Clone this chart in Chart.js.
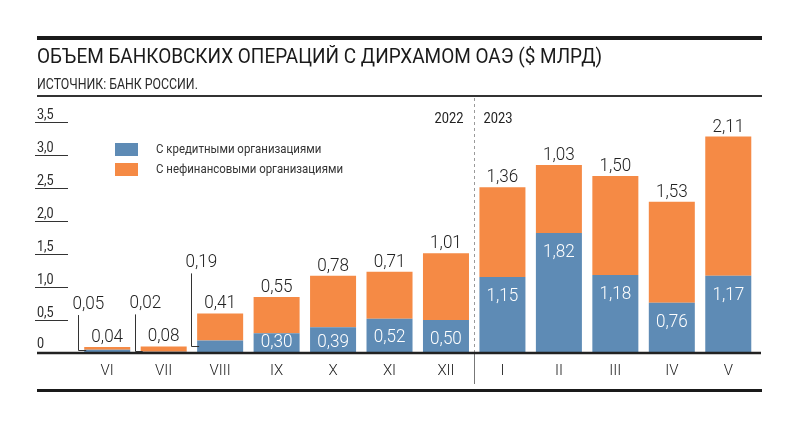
<!DOCTYPE html>
<html>
<head>
<meta charset="utf-8">
<script src="https://cdn.jsdelivr.net/npm/chart.js@4.4.1/dist/chart.umd.min.js"></script>
<style>
  body { margin: 0; background: #fff; }
  #wrap { position: relative; width: 800px; height: 430px; overflow: hidden; }
  #myChart { position: absolute; left: 0; top: 0; }
  .rule { position: absolute; left: 37px; width: 725px; background: #1a1a1a; }
  .txt { position: absolute; left: 37px; white-space: nowrap; font-family: Roboto, sans-serif; color: #1a1a1a; transform-origin: 0 0; }
  #title { top: 46px; font-size: 20px; line-height: 20px; }
  #source { top: 76.5px; font-size: 14px; line-height: 14px; color: #2a2a2a; }
</style>
</head>
<body>
<div id="wrap">
  <canvas id="myChart" width="800" height="430"></canvas>
  <div class="rule" style="top:36px;height:4px"></div>
  <div class="txt" id="title">ОБЪЕМ БАНКОВСКИХ ОПЕРАЦИЙ С ДИРХАМОМ ОАЭ ($ МЛРД)</div>
  <div class="txt" id="source">ИСТОЧНИК: БАНК РОССИИ.</div>
  <div class="rule" style="top:95px;height:2px;background:#333"></div>
  <div class="rule" style="top:389px;height:3px"></div>
</div>
<script>
const months = ['VI', 'VII', 'VIII', 'IX', 'X', 'XI', 'XII', 'I', 'II', 'III', 'IV', 'V'];
const creditOrgs = [0.05, 0.02, 0.19, 0.30, 0.39, 0.52, 0.50, 1.15, 1.82, 1.18, 0.76, 1.17];
const nonFinOrgs = [0.04, 0.08, 0.41, 0.55, 0.78, 0.71, 1.01, 1.36, 1.03, 1.50, 1.53, 2.11];
const yTicks = [0, 0.5, 1, 1.5, 2, 2.5, 3, 3.5];
const years = ['2022', '2023'];
const firstOf2023 = 7;   // index of 'I'
const pulledOut = 3;     // first months: blue value sits on a leader line

const BLUE = '#5e8bb5';
const ORANGE = '#f58a45';
const INK = '#222';

// squeeze title/source to the widths in the picture
function fit(id, w) {
  const el = document.getElementById(id);
  el.style.transform = 'scaleX(' + (w / el.scrollWidth) + ')';
}
fit('title', 565);
fit('source', 161);

const fmt = v => v.toFixed(2).replace('.', ',');
const fmtTick = v => v === 0 ? '0' : v.toFixed(1).replace('.', ',');

// condensed text: squeeze horizontally around the anchor
function narrowText(c, str, x, y, sx) {
  c.save();
  c.translate(x, y);
  c.scale(sx, 1);
  c.fillText(str, 0, 0);
  c.restore();
}

const annot = {
  id: 'annot',
  afterDatasetsDraw(chart) {
    const c = chart.ctx;
    const x = chart.scales.x, y = chart.scales.y;
    const y0 = y.getPixelForValue(0);
    c.save();

    // y ticks: number sitting on a short rule
    c.fillStyle = '#2a2a2a';
    c.strokeStyle = '#333';
    c.lineWidth = 1;
    c.font = '14px Roboto';
    c.textAlign = 'left';
    c.textBaseline = 'alphabetic';
    yTicks.forEach(t => {
      const py = y.getPixelForValue(t);
      if (t > 0) {
        c.beginPath();
        c.moveTo(35, Math.round(py) + 0.5);
        c.lineTo(68, Math.round(py) + 0.5);
        c.stroke();
        narrowText(c, fmtTick(t), 37, py - 3, 0.9);
      } else {
        narrowText(c, fmtTick(t), 37, py - 5, 0.9);
      }
    });

    // year separator
    const sx = Math.round((x.getPixelForValue(firstOf2023 - 1) + x.getPixelForValue(firstOf2023)) / 2) + 0.5;
    c.strokeStyle = '#9a9a9a';
    c.setLineDash([3, 3]);
    c.beginPath();
    c.moveTo(sx, 98);
    c.lineTo(sx, y0);
    c.stroke();
    c.setLineDash([]);
    c.strokeStyle = '#777';
    c.beginPath();
    c.moveTo(sx, y0);
    c.lineTo(sx, 384);
    c.stroke();

    c.fillStyle = INK;
    c.font = '14px Roboto';
    c.textAlign = 'right';
    narrowText(c, years[0], sx - 11, 123, 0.92);
    c.textAlign = 'left';
    narrowText(c, years[1], sx + 9, 123, 0.92);

    // baseline
    c.strokeStyle = '#222';
    c.lineWidth = 2.5;
    c.beginPath();
    c.moveTo(37, y0);
    c.lineTo(761, y0);
    c.stroke();

    // legend
    c.font = '13px Roboto';
    c.textBaseline = 'middle';
    chart.data.datasets.forEach((ds, k) => {
      const ly = 143 + k * 20;
      c.fillStyle = ds.backgroundColor;
      c.fillRect(115, ly, 23, 13);
      c.fillStyle = '#333';
      narrowText(c, ds.label, 156, ly + 6.5, 0.88);
    });

    // value labels
    const m0 = chart.getDatasetMeta(0).data;
    const m1 = chart.getDatasetMeta(1).data;
    c.font = '300 19px Roboto';
    c.textBaseline = 'alphabetic';
    c.lineWidth = 1;
    months.forEach((_, i) => {
      const top = m1[i], low = m0[i];
      c.fillStyle = INK;
      c.textAlign = 'center';
      narrowText(c, fmt(nonFinOrgs[i]), top.x, top.y - 5, 0.9);

      if (i < pulledOut) {
        const left = low.x - low.width / 2;
        const lx = Math.round(left - 6) + 0.5;
        const base = top.y - (i === 2 ? 46 : 38);
        const midBlue = Math.round((low.y + y0) / 2) - 0.5;
        c.strokeStyle = '#333';
        c.beginPath();
        c.moveTo(lx, base + 6);
        c.lineTo(lx, midBlue);
        c.lineTo(left + 2, midBlue);
        c.stroke();
        c.textAlign = 'left';
        narrowText(c, fmt(creditOrgs[i]), lx - 6, base, 0.9);
      } else {
        const cy = Math.min(low.y + 17, 340);
        c.fillStyle = '#fff';
        c.textAlign = 'center';
        narrowText(c, fmt(creditOrgs[i]), low.x, cy + 6.8, 0.9);
      }
    });
    c.restore();
  }
};

const ctx = document.getElementById('myChart');
new Chart(ctx, {
  type: 'bar',
  data: {
    labels: months,
    datasets: [
      { label: 'С кредитными организациями', data: creditOrgs, backgroundColor: BLUE },
      { label: 'С нефинансовыми организациями', data: nonFinOrgs, backgroundColor: ORANGE }
    ]
  },
  options: {
    responsive: false,
    animation: false,
    devicePixelRatio: 1,
    layout: { padding: { left: 79, right: 43.5, top: 122, bottom: 37 } },
    datasets: { bar: { categoryPercentage: 1, barPercentage: 0.815 } },
    plugins: { legend: { display: false }, tooltip: { enabled: false } },
    scales: {
      x: {
        stacked: true,
        grid: { display: false, drawTicks: false },
        border: { display: false },
        ticks: { padding: 9, color: INK, maxRotation: 0, autoSkip: false, font: { family: 'Roboto', size: 15, weight: '300' } },
        afterFit: s => { s.height = 40; }
      },
      y: { stacked: true, display: false, min: 0, max: 3.5 }
    }
  },
  plugins: [annot]
});
</script>
</body>
</html>
